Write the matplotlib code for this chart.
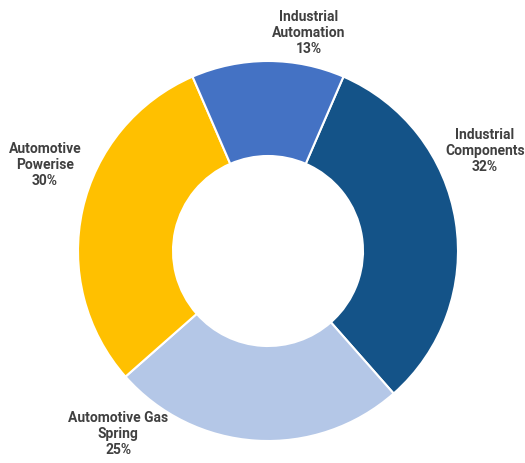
import matplotlib
matplotlib.use("Agg")
import matplotlib.pyplot as plt

# segment shares, clockwise from the top-right
segments = ["Industrial\nComponents", "Automotive Gas\nSpring", "Automotive\nPowerise", "Industrial\nAutomation"]
shares = [32, 25, 30, 13]
colors = ["#145388", "#B4C7E7", "#FFC000", "#4472C4"]

# where each label sits (in units of the outer radius)
label_pos = [(1.142, 0.532), (-0.789, -0.958), (-1.174, 0.458), (0.216, 1.153)]

plt.rcParams["font.family"] = ["Roboto", "DejaVu Sans"]

fig = plt.figure(figsize=(5.25, 4.64), dpi=100)
ax = fig.add_axes([0, 0, 1, 1])

# start so that the small automation slice is centred at the top
start = 90 - shares[-1] / 100 * 360 / 2
ax.pie(shares, colors=colors, startangle=start, counterclock=False, radius=1.0,
       wedgeprops=dict(width=0.5, edgecolor="white", linewidth=1.5))

for name, val, (x, y) in zip(segments, shares, label_pos):
    ax.text(x, y, f"{name}\n{val}%", ha="center", va="center", fontsize=10,
            fontweight="bold", color="#404040", linespacing=1.15)

ax.set_xlim(-268 / 190, (525 - 268) / 190)
ax.set_ylim(-212 / 190, 252 / 190)
ax.set_aspect("equal")
ax.axis("off")

fig.savefig("out.png", dpi=100)
